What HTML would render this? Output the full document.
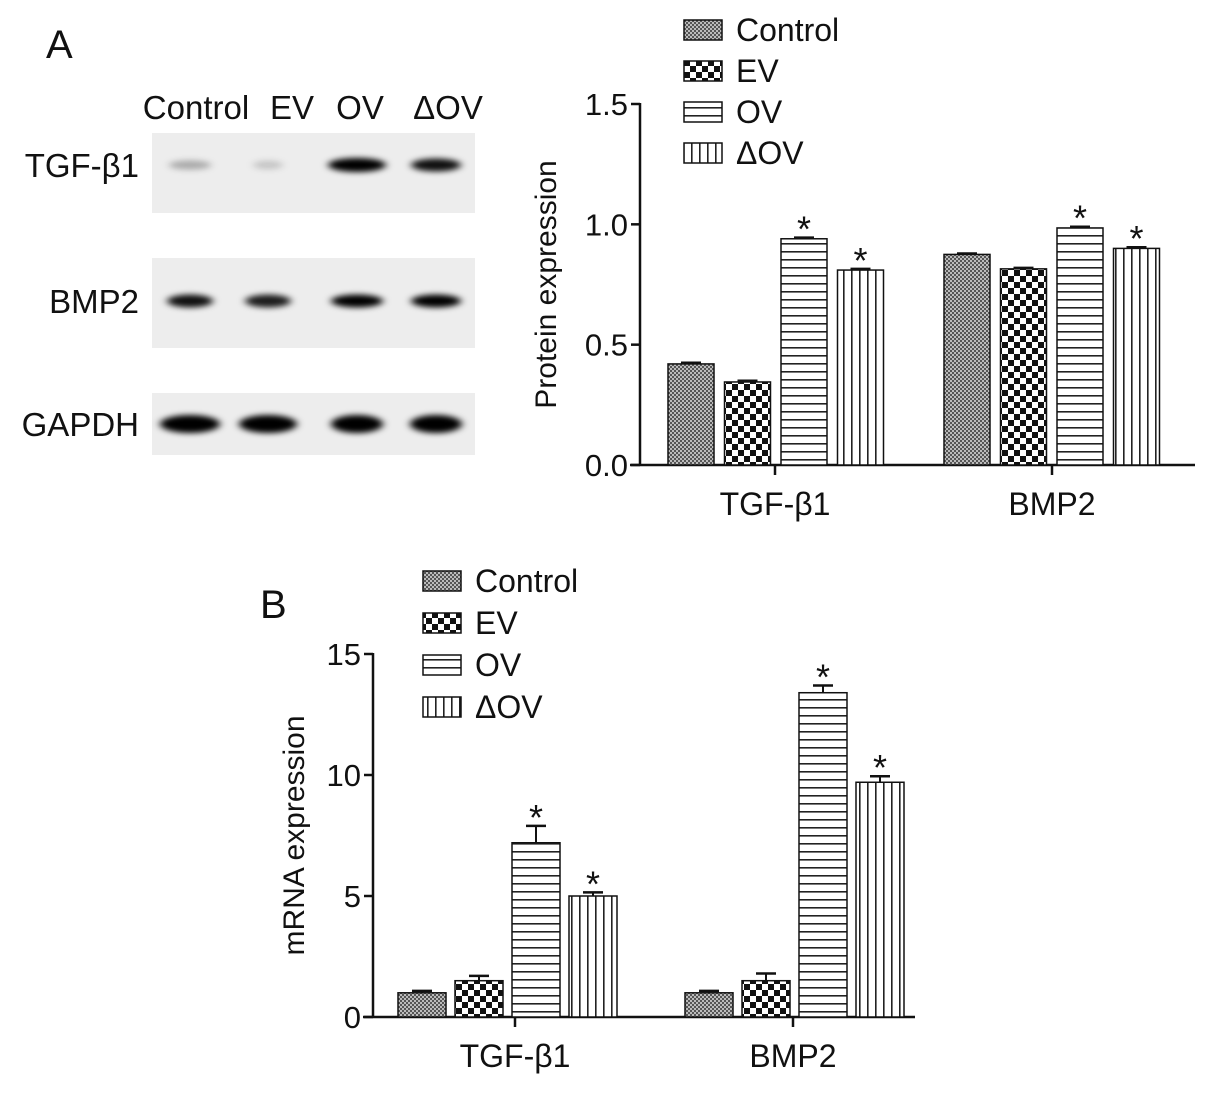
<!DOCTYPE html>
<html><head><meta charset="utf-8"><style>
html,body{margin:0;padding:0;background:#fff;}
svg text{font-family:"Liberation Sans",sans-serif;fill:#111;}
</style></head><body>
<svg id="fig" width="1205" height="1093" viewBox="0 0 1205 1093" xmlns="http://www.w3.org/2000/svg">
<defs>
<pattern id="pCtrl" width="4" height="4" patternUnits="userSpaceOnUse"><rect width="4" height="4" fill="#bbb"/><rect width="2" height="2" fill="#555"/><rect x="2" y="2" width="2" height="2" fill="#555"/></pattern>
<pattern id="pEV" width="12" height="12" patternUnits="userSpaceOnUse"><rect width="12" height="12" fill="#fff"/><rect width="6" height="6" fill="#111"/><rect x="6" y="6" width="6" height="6" fill="#111"/></pattern>
<pattern id="pOV" width="8" height="8" patternUnits="userSpaceOnUse"><rect width="8" height="8" fill="#fff"/><rect y="3" width="8" height="1.6" fill="#222"/></pattern>
<pattern id="pDOV" width="8" height="8" patternUnits="userSpaceOnUse"><rect width="8" height="8" fill="#fff"/><rect x="3" width="1.6" height="8" fill="#222"/></pattern>
<filter id="blur" x="-50%" y="-100%" width="200%" height="300%"><feGaussianBlur stdDeviation="4 3"/></filter>
</defs>
<text x="46" y="58" font-size="40">A</text>
<text x="260" y="618" font-size="40">B</text>
<g id="blot"></g>
<g id="chartA"></g>
<g id="chartB"></g>
</svg>
<script>
const NS="http://www.w3.org/2000/svg";
const groups=["Control","EV","OV","\u0394OV"];
const genes=["TGF-\u03b21","BMP2"];
const fills=["url(#pCtrl)","url(#pEV)","url(#pOV)","url(#pDOV)"];
const protTGF=[0.42,0.345,0.94,0.81];
const protBMP=[0.875,0.815,0.985,0.90];
const protErrTGF=[0.005,0.005,0.005,0.005];
const protErrBMP=[0.004,0.004,0.005,0.005];
const mrnaTGF=[1.0,1.5,7.2,5.0];
const mrnaBMP=[1.0,1.5,13.4,9.7];
const mrnaErrTGF=[0.08,0.2,0.7,0.15];
const mrnaErrBMP=[0.08,0.3,0.3,0.25];
const sigTGF=[false,false,true,true];
const sigBMP=[false,false,true,true];
const ticksA=[0,0.5,1.0,1.5];
const ticksB=[0,5,10,15];
const blotRows=["TGF-\u03b21","BMP2","GAPDH"];
const bandTGF=[0.25,0.15,1.0,0.85];
const bandBMP=[0.85,0.8,1.0,0.95];
const bandGAPDH=[1,1,1,1];

function el(tag,attrs,parent,txt){const e=document.createElementNS(NS,tag);for(const k in attrs)e.setAttribute(k,attrs[k]);if(txt!==undefined)e.textContent=txt;parent.appendChild(e);return e;}

(function(){
const g=document.getElementById('blot');
const lanes=[190,268,357,436];
groups.forEach((n,i)=>{const t=el('text',{x:[196,292,360,448][i],y:119,'font-size':33,'text-anchor':'middle'},g,n);

});
const boxes=[[133,213],[258,348],[393,455]];
const bands=[bandTGF,bandBMP,bandGAPDH];
const widths=[[42,30,58,50],[46,46,52,50],[60,58,52,52]];
blotRows.forEach((r,ri)=>{
 const [y0,y1]=boxes[ri];
 const b=el('rect',{x:152,y:y0,width:323,height:y1-y0,fill:'#ededed'},g);
 
 
 const cy=(y0+y1)/2+[-8,-2,0][ri];
 const t=el('text',{x:139,y:cy+12,'font-size':33,'text-anchor':'end'},g,r);
 
 
 lanes.forEach((lx,li)=>{
  const v=bands[ri][li];
  const h=ri==2?18:(ri==1?13:8+v*6);
  const e=el('ellipse',{cx:lx,cy:cy,rx:widths[ri][li]/2,ry:h/2,fill:'#000','fill-opacity':Math.min(1,v*1.1),filter:'url(#blur)'},g);
  
  
 });
});
})();

function chart(gid,o){
 const g=document.getElementById(gid);
 const y=v=>o.y0-(v/o.max)*(o.y0-o.y1);
 el('line',{x1:o.ax,y1:o.y1-1,x2:o.ax,y2:o.y0,stroke:'#111','stroke-width':2.5},g);
 el('line',{x1:o.ax-10,y1:o.y0,x2:o.xend,y2:o.y0,stroke:'#111','stroke-width':2.5},g);
 o.ticks.forEach(t=>{
  el('line',{x1:o.ax-9,y1:y(t),x2:o.ax,y2:y(t),stroke:'#111','stroke-width':2.5},g);
  const tx=el('text',{x:o.ax-12,y:y(t)+11,'font-size':31,'text-anchor':'end'},g,o.fmt(t));
  
  
 });
 const yt=el('text',{x:0,y:0,'font-size':30,'text-anchor':'middle',transform:`translate(${o.ytx},${(o.y0+o.y1)/2}) rotate(-90)`},g,o.ytitle);
 
 
 const sets=[[o.v1,o.e1,o.s1],[o.v2,o.e2,o.s2]];
 sets.forEach((s,gi)=>{
  const base=o.gx[gi];
  el('line',{x1:o.tick[gi],y1:o.y0,x2:o.tick[gi],y2:o.y0+10,stroke:'#111','stroke-width':2.5},g);
  const xl=el('text',{x:o.tick[gi],y:o.y0+50,'font-size':32,'text-anchor':'middle'},g,genes[gi]);
  
  
  s[0].forEach((v,i)=>{
   const x=base+i*o.step;
   const r=el('rect',{x:x,y:y(v),width:o.bw,height:o.y0-y(v),fill:fills[i],stroke:'#111','stroke-width':1.5},g);
   
   
   const cx=x+o.bw/2, et=y(v+s[1][i]);
   el('line',{x1:cx,y1:y(v),x2:cx,y2:et,stroke:'#111','stroke-width':2},g);
   el('line',{x1:cx-10,y1:et,x2:cx+10,y2:et,stroke:'#111','stroke-width':2.5},g);
   if(s[2][i]){const st=el('text',{x:cx,y:et+4,'font-size':36,'text-anchor':'middle'},g,'*');
    
    }
  });
 });
 groups.forEach((n,i)=>{
  const ly=o.ly+i*o.lstep;
  const sw=el('rect',{x:o.lx,y:ly-9,width:38,height:20,fill:fills[i],stroke:'#111','stroke-width':1.5},g);
  
  
  const lt=el('text',{x:o.lx+52,y:ly+12,'font-size':32},g,n);
  
  
 });
}
chart('chartA',{ax:640,y0:465,y1:104,max:1.5,xend:1195,ticks:ticksA,fmt:t=>t.toFixed(1),ytitle:'Protein expression',ytx:556,
 v1:protTGF,e1:protErrTGF,s1:sigTGF,v2:protBMP,e2:protErrBMP,s2:sigBMP,gx:[668,944],step:56.5,bw:46,tick:[775,1052],lx:684,ly:29,lstep:41});
chart('chartB',{ax:373,y0:1017,y1:654,max:15,xend:915,ticks:ticksB,fmt:t=>String(t),ytitle:'mRNA expression',ytx:304,
 v1:mrnaTGF,e1:mrnaErrTGF,s1:sigTGF,v2:mrnaBMP,e2:mrnaErrBMP,s2:sigBMP,gx:[398,685],step:57,bw:48,tick:[515,793],lx:423,ly:580,lstep:42});
</script>
</body></html>
